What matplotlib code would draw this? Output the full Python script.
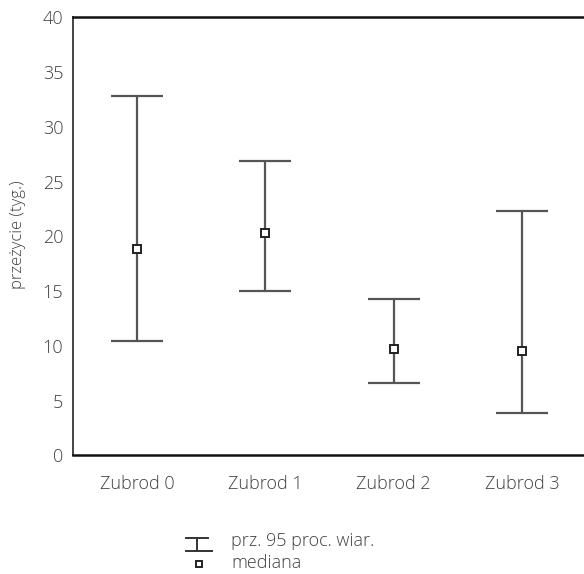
import matplotlib
matplotlib.use("Agg")
import matplotlib.pyplot as plt
from matplotlib.lines import Line2D

categories = ["Zubrod 0", "Zubrod 1", "Zubrod 2", "Zubrod 3"]
median = [18.85, 20.27, 9.71, 9.53]
ci_lower = [10.47, 15.0, 6.63, 3.84]
ci_upper = [32.8, 26.88, 14.25, 22.34]
y_ticks = [0, 5, 10, 15, 20, 25, 30, 35, 40]
y_label = "przeżycie (tyg.)"
legend_labels = ["prz. 95 proc. wiar.", "mediana"]

plt.rcParams['font.family'] = ['Open Sans', 'DejaVu Sans']
txt = "#404040"
line_c = "#555555"

fig = plt.figure(figsize=(5.84, 5.74), dpi=100)
ax = fig.add_axes([73/584, 118.7/574, 513/584, 438/574])

x = list(range(len(categories)))
yerr = [[m - l for m, l in zip(median, ci_lower)], [u - m for m, u in zip(median, ci_upper)]]
ax.errorbar(x, median, yerr=yerr, fmt='none', ecolor=line_c, elinewidth=1.6,
            capsize=18.4, capthick=1.6)
ax.plot(x, median, linestyle='none', marker='s', markersize=5.4, markerfacecolor='white',
        markeredgecolor='#222222', markeredgewidth=1.4, zorder=5)

ax.set_xlim(-0.5, 3.5)
ax.set_ylim(0, 40)
ax.set_yticks(y_ticks)
ax.set_yticklabels([str(t) for t in y_ticks])
ax.set_xticks(x)
ax.set_xticklabels(categories)
ax.tick_params(axis='both', length=0, labelsize=13, colors=txt)
ax.tick_params(axis='y', pad=7)
ax.tick_params(axis='x', pad=14)
for lab in ax.get_xticklabels() + ax.get_yticklabels():
    lab.set_fontweight('light')

ax.spines['right'].set_visible(False)
ax.spines['top'].set_color('#111111')
ax.spines['top'].set_linewidth(1.8)
ax.spines['bottom'].set_color('#111111')
ax.spines['bottom'].set_linewidth(1.8)
ax.spines['left'].set_color('#444444')
ax.spines['left'].set_linewidth(1.4)

fig.text(18/584, 1 - 235/574, y_label, rotation=90, ha='center', va='center',
         fontsize=12, color=txt, fontweight='light')

# legend
W, H = 584, 574
def fx(px): return px / W
def fy(py): return 1 - py / H
fig.add_artist(Line2D([fx(186), fx(208)], [fy(538), fy(538)], color='#333333', lw=1.4))
fig.add_artist(Line2D([fx(197), fx(197)], [fy(538), fy(550.5)], color='#333333', lw=1.4))
fig.add_artist(Line2D([fx(186), fx(212)], [fy(550.5), fy(550.5)], color='#333333', lw=1.4))
fig.add_artist(Line2D([fx(199)], [fy(564)], linestyle='none', marker='s', markersize=4.8,
                      markerfacecolor='white', markeredgecolor='#222222', markeredgewidth=1.4))
fig.text(fx(231), fy(541), legend_labels[0], ha='left', va='center', fontsize=13,
         color=txt, fontweight='light')
fig.text(fx(231), fy(563), legend_labels[1], ha='left', va='center', fontsize=13,
         color=txt, fontweight='light')

fig.savefig("out.png", dpi=100)
